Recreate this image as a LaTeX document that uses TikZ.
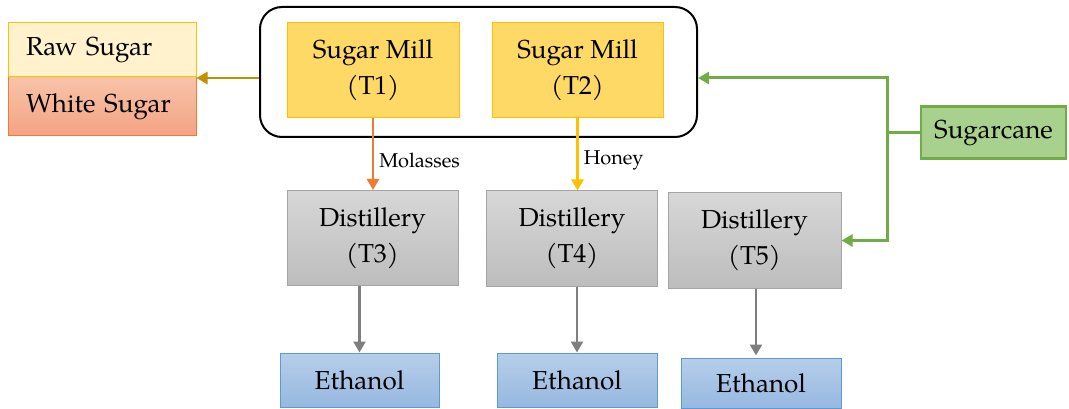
\documentclass[tikz,border=0pt]{standalone}
\usepackage{fontspec}
\setmainfont{texgyrepagella}[Extension=.otf, UprightFont=*-regular]
\usetikzlibrary{arrows.meta}

\definecolor{rawfill}{HTML}{FFF2CC}
\definecolor{gold}{HTML}{FFC000}
\definecolor{darkgold}{HTML}{BF9000}
\definecolor{orangeline}{HTML}{ED7D31}
\definecolor{whitetop}{HTML}{F8C3A9}
\definecolor{whitebot}{HTML}{F4A383}
\definecolor{millfill}{HTML}{FFD966}
\definecolor{distop}{HTML}{D7D7D7}
\definecolor{disbot}{HTML}{BDBDBD}
\definecolor{disline}{HTML}{A5A5A5}
\definecolor{ethtop}{HTML}{B6CEEA}
\definecolor{ethbot}{HTML}{97B8E0}
\definecolor{ethline}{HTML}{5B9BD5}
\definecolor{canefill}{HTML}{A9D18E}
\definecolor{greenline}{HTML}{70AD47}
\definecolor{grayline}{HTML}{7F7F7F}

\tikzset{
  box/.style={inner sep=0pt, align=center, font=\fontsize{26}{36}\selectfont, line width=1pt},
  leftbox/.style={box, text width=152pt, align=left, inner xsep=18pt},
  rawbox/.style={leftbox, fill=rawfill, draw=gold},
  whitebox/.style={leftbox, top color=whitetop, bottom color=whitebot, draw=orangeline},
  millbox/.style={box, fill=millfill, draw=gold},
  distbox/.style={box, top color=distop, bottom color=disbot, draw=disline},
  ethbox/.style={box, top color=ethtop, bottom color=ethbot, draw=ethline},
  canebox/.style={box, fill=canefill, draw=greenline, line width=2.5pt},
  group/.style={draw=black, line width=2pt, rounded corners=22pt, inner sep=0pt},
  flow/.style={line width=2.5pt, -{Triangle[length=11pt,width=12pt]}},
  lbl/.style={text=black, font=\fontsize{20}{24}\selectfont, inner sep=0pt, anchor=west, xshift=5pt}
}

\begin{document}
\begin{tikzpicture}[x=1pt, y=-1pt]
\useasboundingbox (0,0) rectangle (1069,409);

% sugar products
\node[whitebox, minimum width=188pt, minimum height=59pt] (white) at (102,106.5) {White Sugar};
\node[rawbox, minimum width=188pt, minimum height=54pt] (raw) at (102,50) {Raw Sugar};

% sugar mills and their grouping frame
\node[group, minimum width=437pt, minimum height=130pt] (mills) at (478.5,72) {};
\node[millbox, minimum width=172pt, minimum height=95pt] (t1) at (373,70.5) {Sugar Mill\\(T1)};
\node[millbox, minimum width=171pt, minimum height=95pt] (t2) at (577.5,70.5) {Sugar Mill\\(T2)};

% feedstock
\node[canebox, minimum width=145pt, minimum height=52pt] (cane) at (993.5,132.5) {Sugarcane};

% distilleries
\node[distbox, minimum width=171pt, minimum height=95pt] (t3) at (372.5,238) {Distillery\\(T3)};
\node[distbox, minimum width=171pt, minimum height=95pt] (t4) at (572,238.5) {Distillery\\(T4)};
\node[distbox, minimum width=173pt, minimum height=95pt] (t5) at (754.5,240.5) {Distillery\\(T5)};

% products
\node[ethbox, minimum width=159pt, minimum height=54pt] (e1) at (359.5,380) {Ethanol};
\node[ethbox, minimum width=160pt, minimum height=54pt] (e2) at (577,380) {Ethanol};
\node[ethbox, minimum width=160pt, minimum height=50pt] (e3) at (761,383) {Ethanol};

% mills -> sugar
\draw[flow, darkgold] ([yshift=-6pt]mills.west) -- ([yshift=-6pt]mills.west -| white.east);

% mill by-products -> distilleries
\draw[flow, orangeline] (t1.south) -- node[lbl, pos=0.58] {Molasses} (t1.south |- t3.north);
\draw[flow, gold] (t2.south) -- node[lbl, pos=0.58] {Honey} (t2.south |- t4.north);

% sugarcane supply
\coordinate (split) at ([xshift=-32pt]cane.west);
\draw[line width=3pt, greenline] (cane.west) -- (split);
\draw[flow, line width=3pt, greenline] (split) |- ([yshift=-6pt]mills.east);
\draw[flow, line width=3pt, greenline] (split) |- (t5.east);

% distilleries -> ethanol
\draw[flow, grayline] (e1.north |- t3.south) -- (e1.north);
\draw[flow, grayline] (e2.north |- t4.south) -- (e2.north);
\draw[flow, grayline] ([xshift=1.5pt]t5.south) -- ([xshift=1.5pt,yshift=2pt]t5.south |- e3.north);
\end{tikzpicture}
\end{document}
